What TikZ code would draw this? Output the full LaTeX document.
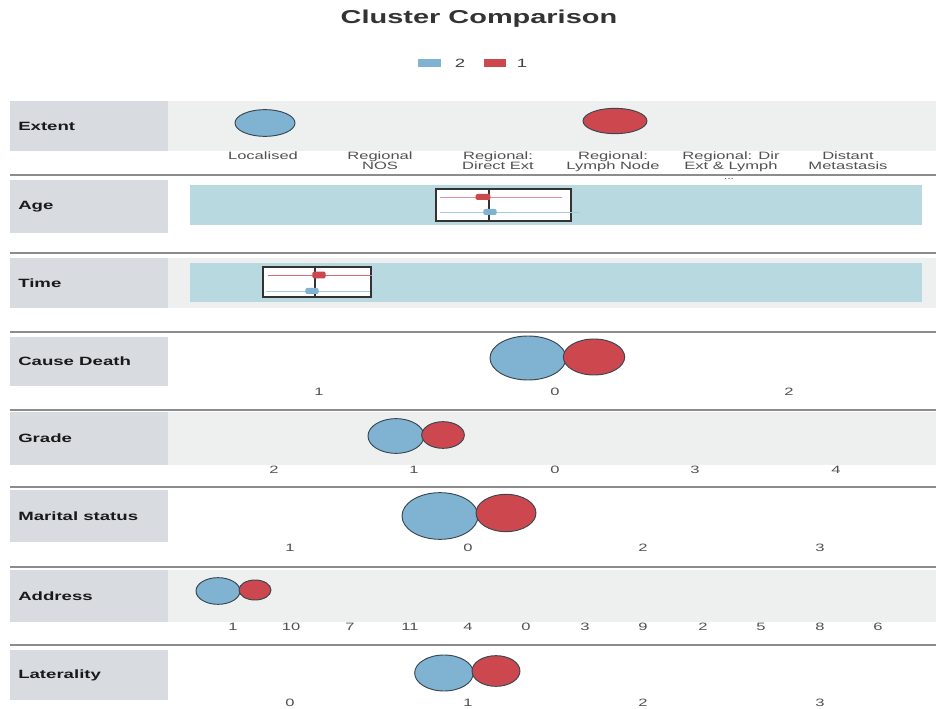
\documentclass[tikz,border=0pt]{standalone}
\usepackage{fontspec}
\setmainfont{Liberation Sans}[FakeStretch=1.55]
\usetikzlibrary{shapes.geometric}
\definecolor{cblue}{RGB}{128,178,210}
\definecolor{cred}{RGB}{205,72,78}
\definecolor{edgec}{RGB}{55,70,80}
\definecolor{labbox}{RGB}{216,219,224}
\definecolor{panelg}{RGB}{238,240,240}
\definecolor{panelb}{RGB}{185,217,225}
\definecolor{sepc}{RGB}{140,140,140}
\definecolor{axisc}{RGB}{80,80,80}
\tikzset{
  rowlab/.style={font=\bfseries\fontsize{9}{10}\selectfont, text=black!90, anchor=west, inner sep=0pt},
  axlab/.style={font=\fontsize{8}{7.5}\selectfont, text=axisc, align=center, inner sep=0pt},
  bub/.style={ellipse, draw=edgec, line width=0.7pt, inner sep=0pt},
  bblue/.style={bub, fill=cblue},
  bred/.style={bub, fill=cred},
  sepline/.style={draw=sepc, line width=1.5pt},
  boxp/.style={draw=black!80, fill=white, line width=0.9pt},
  legsq/.style={minimum width=17pt, minimum height=6.5pt, inner sep=0pt},
  legtx/.style={font=\fontsize{9}{10}\selectfont, text=black!75},
}
\begin{document}
\begin{tikzpicture}[x=0.75pt,y=-0.75pt]
\useasboundingbox (0,0) rectangle (936,709);
% title and legend
\node[font=\bfseries\fontsize{14}{16}\selectfont, text=black!80] (title) at (479,19) {Cluster Comparison};
\node[legsq, fill=cblue] (lg2) at (429.5,63) {};
\node[legtx] (lt2) at (460,63) {2};
\node[legsq, fill=cred] (lg1) at (495,63) {};
\node[legtx] (lt1) at (522,63) {1};

% separator lines
\foreach \yy [count=\i] in {175,253,332,410,487,567,645}
  \draw[sepline] (10,\yy) -- (936,\yy);

% row backgrounds (light grey panels)
\fill[panelg] (168,101) rectangle (936,151);
\fill[panelg] (168,258) rectangle (936,308);
\fill[panelg] (168,412) rectangle (936,465);
\fill[panelg] (168,570) rectangle (936,622);

% row label boxes
\foreach \ya/\yb/\txt in {101/151/Extent,180/233/Age,258/308/Time,337/386/Cause Death,412/465/Grade,490/542/Marital status,570/622/Address,650/700/Laterality}{
  \fill[labbox] (10,\ya) rectangle (168,\yb);
  \node[rowlab] at (18,{(\ya+\yb)/2}) {\txt};
}

% Extent
\node[bblue, minimum width=45pt, minimum height=20pt] (ext2) at (265,123) {};
\node[bred, minimum width=48pt, minimum height=19pt] (ext1) at (615,121) {};
\foreach \xx/\txt in {263/Localised,380/Regional\\NOS,498/Regional:\\Direct Ext,613/Regional:\\Lymph Node,731/Regional: Dir\\Ext \& Lymph,848/Distant\\Metastasis}
  \node[axlab, anchor=north] at (\xx,152) {\txt};
\node[font=\fontsize{6}{6}\selectfont, text=axisc, inner sep=0pt] (dots) at (729,179) {...};

% Age
\fill[panelb] (190,185) rectangle (922,225);
\draw[boxp] (436,189) rectangle (571,221);
\draw[cred!60, line width=0.6pt] (440,197) -- (562,197);
\draw[cblue!70, line width=0.6pt] (440,212) -- (580,212);
\draw[black!80, line width=1pt] (489,189) -- (489,221);
\node[fill=cred, minimum width=11pt, minimum height=4.5pt, inner sep=0pt, rounded corners=1pt] (agered) at (483,197) {};
\node[fill=cblue, minimum width=10pt, minimum height=4.5pt, inner sep=0pt, rounded corners=1.5pt] (ageblue) at (490,212) {};

% Time
\fill[panelb] (190,263) rectangle (922,302);
\draw[boxp] (263,267) rectangle (371,297);
\draw[cred!80, line width=0.6pt] (268,275) -- (372,275);
\draw[cblue!70, line width=0.6pt] (266,291) -- (370,291);
\draw[black!80, line width=1pt] (315,267) -- (315,297);
\node[fill=cred, minimum width=10pt, minimum height=5pt, inner sep=0pt, rounded corners=1pt] (timered) at (319,275) {};
\node[fill=cblue, minimum width=10pt, minimum height=4.5pt, inner sep=0pt, rounded corners=1.5pt] (timeblue) at (312,291) {};

% Cause Death
\node[bblue, minimum width=57pt, minimum height=33pt] (cd2) at (528,358) {};
\node[bred, minimum width=46pt, minimum height=27pt] (cd1) at (594,357) {};
\foreach \xx/\txt in {319/1,555/0,789/2}
  \node[axlab] at (\xx,392) {\txt};

% Grade
\node[bblue, minimum width=42pt, minimum height=26pt] (gr2) at (396,436) {};
\node[bred, minimum width=32pt, minimum height=20pt] (gr1) at (443,435) {};
\foreach \xx/\txt in {274/2,414/1,555/0,695/3,836/4}
  \node[axlab] at (\xx,470) {\txt};

% Marital status
\node[bblue, minimum width=57pt, minimum height=35pt] (ms2) at (440,516) {};
\node[bred, minimum width=45pt, minimum height=28pt] (ms1) at (506,513) {};
\foreach \xx/\txt in {290/1,468/0,643/2,820/3}
  \node[axlab] at (\xx,548) {\txt};

% Address
\node[bblue, minimum width=33pt, minimum height=20pt] (ad2) at (218,591) {};
\node[bred, minimum width=24pt, minimum height=15pt] (ad1) at (255,590) {};
\foreach \xx/\txt in {233/1,291/10,350/7,410/11,468/4,526/0,585/3,643/9,703/2,761/5,820/8,878/6}
  \node[axlab] at (\xx,627) {\txt};

% Laterality
\node[bblue, minimum width=44pt, minimum height=27pt] (la2) at (444,673) {};
\node[bred, minimum width=36pt, minimum height=23pt] (la1) at (496,671) {};
\foreach \xx/\txt in {290/0,468/1,643/2,820/3}
  \node[axlab] at (\xx,703) {\txt};
\end{tikzpicture}
\end{document}
